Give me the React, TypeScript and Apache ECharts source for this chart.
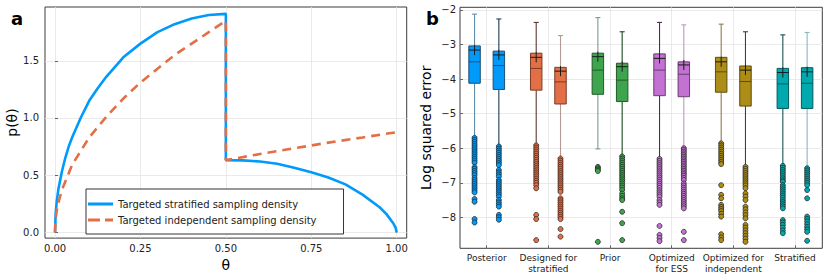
import React, { useEffect, useRef } from 'react';
import * as echarts from 'echarts';

// ---------- Panel a data ----------
const thetaTicks = [0, 0.25, 0.5, 0.75, 1.0];
const densityTicks = [0, 0.5, 1.0, 1.5];

const stratifiedDensity: [number, number][] = [
  [0, 0], [0.002, 0.17], [0.005, 0.27], [0.01, 0.38], [0.02, 0.53], [0.03, 0.65],
  [0.04, 0.75], [0.05, 0.83], [0.075, 1.0], [0.1, 1.15], [0.125, 1.26], [0.15, 1.36],
  [0.2, 1.53], [0.25, 1.65], [0.3, 1.75], [0.35, 1.82], [0.4, 1.87], [0.45, 1.9],
  [0.5, 1.91], [0.5, 0.632], [0.55, 0.63], [0.6, 0.62], [0.65, 0.6], [0.7, 0.565],
  [0.75, 0.525], [0.8, 0.48], [0.85, 0.42], [0.9, 0.33], [0.95, 0.22], [0.97, 0.16],
  [0.99, 0.08], [0.997, 0.04], [1.0, 0.0],
];

const independentDensity: [number, number][] = [
  [0, 0], [0.002, 0.12], [0.005, 0.19], [0.01, 0.26], [0.02, 0.37], [0.05, 0.59],
  [0.1, 0.83], [0.15, 1.01], [0.2, 1.17], [0.25, 1.31], [0.3, 1.43], [0.35, 1.55],
  [0.4, 1.65], [0.45, 1.75], [0.5, 1.85], [0.5, 0.632], [0.6, 0.685], [0.7, 0.735],
  [0.8, 0.785], [0.9, 0.83], [1.0, 0.876],
];

// ---------- Panel b data ----------
const categories = [
  'Posterior', 'Designed for\nstratified', 'Prior', 'Optimized\nfor ESS',
  'Optimized for\nindependent', 'Stratified',
];
const categoryTicks = [1, 2, 3, 4, 5, 6];
const errorTicks = [-8, -7, -6, -5, -4, -3, -2];

// per box: [whisker high, Q3, mean, median, Q1, whisker low]
const boxStats: number[][] = [
  [-2.12, -3.04, -3.16, -3.5, -4.12, -5.67],
  [-2.26, -3.19, -3.3, -3.61, -4.3, -5.94],
  [-2.36, -3.25, -3.37, -3.69, -4.32, -5.9],
  [-2.74, -3.66, -3.77, -4.08, -4.72, -6.28],
  [-2.22, -3.25, -3.35, -3.74, -4.44, -6.02],
  [-2.63, -3.54, -3.64, -4.03, -4.65, -6.22],
  [-2.36, -3.27, -3.4, -3.74, -4.48, -6.29],
  [-2.43, -3.5, -3.59, -3.86, -4.51, -5.99],
  [-2.41, -3.37, -3.5, -3.79, -4.38, -5.85],
  [-2.63, -3.62, -3.74, -4.07, -4.78, -6.52],
  [-2.72, -3.69, -3.81, -4.14, -4.85, -6.5],
  [-2.65, -3.67, -3.79, -4.12, -4.85, -6.57],
];

const outliers: number[][] = [
  [-5.7, -5.76, -5.82, -5.88, -5.94, -6.0, -6.06, -6.12, -6.18, -6.24, -6.3, -6.36, -6.42,
    -6.55, -6.6, -6.66, -6.72, -6.78, -6.86, -6.92, -6.98, -7.04, -7.1, -7.16, -7.22, -7.28,
    -7.47, -7.55, -8.05, -8.15],
  [-5.95, -6.01, -6.07, -6.13, -6.19, -6.25, -6.31, -6.37, -6.43, -6.49, -6.63, -6.7, -6.76,
    -6.82, -6.92, -6.98, -7.04, -7.1, -7.16, -7.22, -7.28, -7.34, -7.4, -7.5, -7.57, -7.63,
    -7.69, -7.93, -8.0, -8.07],
  [-5.92, -5.98, -6.04, -6.1, -6.16, -6.22, -6.28, -6.34, -6.4, -6.46, -6.52, -6.58, -6.64,
    -6.7, -6.76, -6.82, -6.88, -6.94, -7.0, -7.07, -7.16, -7.93, -8.05, -8.66],
  [-6.3, -6.36, -6.42, -6.48, -6.54, -6.6, -6.66, -6.72, -6.78, -6.84, -6.9, -6.96, -7.02,
    -7.08, -7.14, -7.2, -7.26, -7.45, -7.51, -7.57, -7.63, -7.69, -7.75, -7.81, -7.87, -7.93,
    -7.99, -8.05, -8.34, -8.56],
  [-6.54, -6.58, -6.62, -6.66, -8.71],
  [-6.24, -6.3, -6.36, -6.42, -6.48, -6.54, -6.6, -6.66, -6.72, -6.78, -6.84, -6.9, -6.96,
    -7.02, -7.08, -7.14, -7.21, -7.31, -7.38, -7.45, -7.5, -7.84, -8.17, -8.66],
  [-6.31, -6.37, -6.43, -6.49, -6.55, -6.61, -6.67, -6.73, -6.79, -6.85, -6.91, -6.97, -7.03,
    -7.09, -7.15, -7.22, -7.28, -7.34, -7.4, -7.5, -7.57, -7.64, -8.25, -8.51, -8.6, -8.69],
  [-6.0, -6.05, -6.1, -6.15, -6.2, -6.25, -6.3, -6.35, -6.4, -6.45, -6.5, -6.55, -6.6, -6.65,
    -6.7, -6.75, -6.8, -6.86, -6.92, -7.02, -7.08, -7.14, -7.2, -7.26, -7.32, -7.38, -7.44,
    -7.5, -7.56, -7.62, -7.68, -7.74, -8.42, -8.66],
  [-5.86, -5.92, -5.98, -6.04, -6.1, -6.16, -6.22, -6.28, -6.34, -6.4, -6.46, -7.07, -7.35,
    -7.45, -7.64, -7.7, -7.76, -7.82, -7.9, -7.98, -8.49, -8.58, -8.66],
  [-6.54, -6.6, -6.66, -6.72, -6.78, -6.84, -6.9, -6.96, -7.02, -7.08, -7.16, -7.31, -7.4,
    -7.5, -7.69, -7.77, -7.86, -7.94, -8.03, -8.22, -8.3, -8.38, -8.46, -8.54, -8.62, -8.71],
  [-6.51, -6.57, -6.63, -6.69, -6.75, -6.81, -6.87, -6.93, -6.97, -7.07, -7.13, -7.19, -7.25,
    -7.31, -7.37, -7.43, -7.5, -7.56, -7.62, -7.68, -7.74, -8.08, -8.15, -8.22, -8.3, -8.38,
    -8.46],
  [-6.58, -6.64, -6.7, -6.76, -6.82, -6.88, -6.94, -7.0, -7.07, -7.21, -7.45, -7.98, -8.05,
    -8.12, -8.2, -8.28, -8.35, -8.42, -8.68],
];

const groupColors = ['#009AFA', '#E36F47', '#3EA44E', '#C371D2', '#AC8D18', '#00A9AD'];
const groupStrokes = ['#1f4f74', '#7a3b26', '#235a2b', '#6a3d72', '#5e4d0d', '#005b5e'];
const whiskerColors = [
  '#5f8cab', '#173a55', '#5c3a30', '#b49a95', '#7f9a84', '#1d4723',
  '#4d2c54', '#b99cbc', '#8c7c52', '#4a4020', '#1b5253', '#85baba',
];

const FONT = 'DejaVu Sans';
const PAIR_OFFSET = 0.197;
const BOX_WIDTH = 0.186;

function boxX(i: number) {
  return Math.floor(i / 2) + 1 + (i % 2 === 0 ? -PAIR_OFFSET : PAIR_OFFSET);
}

const minus = (v: number) => (v < 0 ? '\u2212' + Math.abs(v) : String(v));

export default function App() {
  const ref = useRef<HTMLDivElement>(null);

  useEffect(() => {
    if (!ref.current) return;
    const chart = echarts.init(ref.current, undefined, { renderer: 'svg' });

    const boxData = boxStats.map((s, i) => [boxX(i), ...s, i]);

    const gridLine = { show: true, lineStyle: { color: '#e5e5e5', width: 0.8 } };
    const tickStyle = { show: true, inside: true, length: 3, lineStyle: { color: '#444', width: 0.8 } };
    const labelStyle = { color: '#222', fontSize: 10, fontFamily: FONT };

    const scatterSeries = outliers.map((vals, i) => ({
      type: 'scatter',
      xAxisIndex: 1,
      yAxisIndex: 1,
      symbol: 'circle',
      symbolSize: 5,
      itemStyle: {
        color: groupColors[Math.floor(i / 2)],
        borderColor: '#1a1a1a',
        borderWidth: 0.7,
        opacity: 1,
      },
      data: vals.map((v) => [boxX(i), v]),
      z: 5,
    }));

    const option: any = {
      animation: false,
      backgroundColor: '#fff',
      textStyle: { fontFamily: FONT },
      title: [
        { text: 'a', left: 6, top: 4, textStyle: { fontSize: 18, fontWeight: 'bold', color: '#000', fontFamily: FONT } },
        { text: 'b', left: 421, top: 4, textStyle: { fontSize: 18, fontWeight: 'bold', color: '#000', fontFamily: FONT } },
      ],
      grid: [
        { left: 45, top: 7, width: 361.7, height: 232, show: true, borderColor: '#3c3c3c', borderWidth: 1 },
        { left: 460, top: 7.3, width: 362.3, height: 241, show: true, borderColor: '#3c3c3c', borderWidth: 1 },
      ],
      legend: {
        orient: 'vertical',
        left: 86,
        top: 189,
        padding: [9, 27, 8, 2],
        itemGap: 4,
        itemWidth: 25,
        itemHeight: 3,
        borderColor: '#333',
        borderWidth: 1,
        borderRadius: 0,
        backgroundColor: '#fff',
        textStyle: { fontSize: 10, color: '#222', fontFamily: FONT, lineHeight: 12 },
        data: [
          { name: 'Targeted stratified sampling density', icon: 'path://M0,0h25v3h-25z' },
          { name: 'Targeted independent sampling density', icon: 'path://M0,0h12v3h-12z M17,0h8v3h-8z' },
        ],
      },
      xAxis: [
        {
          type: 'value',
          gridIndex: 0,
          min: -0.0293,
          max: 1.0293,
          name: 'θ',
          nameLocation: 'middle',
          nameGap: 12,
          nameTextStyle: { fontSize: 14, color: '#000', fontFamily: FONT, verticalAlign: 'top' },
          axisLine: { show: false },
          axisTick: { ...tickStyle, customValues: thetaTicks },
          axisLabel: { ...labelStyle, margin: 5, customValues: thetaTicks, formatter: (v: number) => v.toFixed(2) },
          splitLine: { ...gridLine, customValues: thetaTicks },
        },
        {
          type: 'value',
          gridIndex: 1,
          min: 0.567,
          max: 6.443,
          axisLine: { show: false },
          axisTick: { ...tickStyle, customValues: categoryTicks },
          axisLabel: {
            color: '#222', fontSize: 9, fontFamily: FONT, margin: 4, lineHeight: 11,
            customValues: categoryTicks,
            formatter: (v: number) => categories[Math.round(v) - 1] ?? '',
          },
          splitLine: { ...gridLine, customValues: categoryTicks },
        },
      ],
      yAxis: [
        {
          type: 'value',
          gridIndex: 0,
          min: -0.0496,
          max: 1.97,
          name: 'p(θ)',
          nameLocation: 'middle',
          nameGap: 25,
          nameTextStyle: { fontSize: 14, color: '#000', fontFamily: FONT },
          axisLine: { show: false },
          axisTick: { ...tickStyle, customValues: densityTicks },
          axisLabel: { ...labelStyle, margin: 6, customValues: densityTicks, formatter: (v: number) => v.toFixed(1) },
          splitLine: { ...gridLine, customValues: densityTicks },
        },
        {
          type: 'value',
          gridIndex: 1,
          min: -8.897,
          max: -1.922,
          name: 'Log squared error',
          nameLocation: 'middle',
          nameGap: 27,
          nameTextStyle: { fontSize: 14, color: '#000', fontFamily: FONT },
          axisLine: { show: false },
          axisTick: { ...tickStyle, customValues: errorTicks },
          axisLabel: { ...labelStyle, margin: 4, customValues: errorTicks, formatter: (v: number) => minus(v) },
          splitLine: { ...gridLine, customValues: errorTicks },
        },
      ],
      series: [
        {
          name: 'Targeted stratified sampling density',
          type: 'line',
          xAxisIndex: 0,
          yAxisIndex: 0,
          data: stratifiedDensity,
          symbol: 'none',
          showSymbol: false,
          color: '#009AFA',
          itemStyle: { color: '#009AFA' },
          lineStyle: { color: '#009AFA', width: 2.6 },
          z: 3,
        },
        {
          name: 'Targeted independent sampling density',
          type: 'line',
          xAxisIndex: 0,
          yAxisIndex: 0,
          data: independentDensity,
          symbol: 'none',
          showSymbol: false,
          color: '#E26F46',
          itemStyle: { color: '#E26F46' },
          lineStyle: { color: '#E26F46', width: 2.6, type: [9, 6] },
          z: 4,
        },
        {
          type: 'custom',
          xAxisIndex: 1,
          yAxisIndex: 1,
          data: boxData,
          encode: { x: 0, y: [1, 2, 3, 4, 5, 6] },
          z: 3,
          renderItem: (params: any, api: any) => {
            const x = api.value(0);
            const idx = api.value(7);
            const g = Math.floor(idx / 2);
            const py = (v: number) => api.coord([x, v])[1];
            const px = api.coord([x, api.value(1)])[0];
            const bw = api.size([BOX_WIDTH, 0])[0];
            const yWh = py(api.value(1));
            const yQ3 = py(api.value(2));
            const mean = api.value(3);
            const yMean = py(mean);
            const yMed = py(api.value(4));
            const yQ1 = py(api.value(5));
            const yWl = py(api.value(6));
            const wc = whiskerColors[idx];
            const sc = groupStrokes[g];
            const cap = 2.5;
            return {
              type: 'group',
              children: [
                { type: 'line', shape: { x1: px, y1: yWh, x2: px, y2: yQ3 }, style: { stroke: wc, lineWidth: 1.1 } },
                { type: 'line', shape: { x1: px - cap, y1: yWh, x2: px + cap, y2: yWh }, style: { stroke: wc, lineWidth: 1.1 } },
                { type: 'line', shape: { x1: px, y1: yQ1, x2: px, y2: yWl }, style: { stroke: wc, lineWidth: 1.1 } },
                { type: 'line', shape: { x1: px - cap, y1: yWl, x2: px + cap, y2: yWl }, style: { stroke: wc, lineWidth: 1.1 } },
                {
                  type: 'rect',
                  shape: { x: px - bw / 2, y: yQ3, width: bw, height: yQ1 - yQ3 },
                  style: { fill: groupColors[g], stroke: sc, lineWidth: 1 },
                },
                { type: 'line', shape: { x1: px - bw / 2, y1: yMed, x2: px + bw / 2, y2: yMed }, style: { stroke: sc, lineWidth: 1 } },
                { type: 'line', shape: { x1: px - bw / 2, y1: yMean, x2: px + bw / 2, y2: yMean }, style: { stroke: '#1a1a1a', lineWidth: 1 } },
                {
                  type: 'line',
                  shape: { x1: px, y1: py(mean + 0.145), x2: px, y2: py(mean - 0.145) },
                  style: { stroke: '#1a1a1a', lineWidth: 1 },
                },
              ],
            };
          },
        },
        ...scatterSeries,
      ],
    };

    chart.setOption(option);
    return () => chart.dispose();
  }, []);

  return (
    <div
      ref={ref}
      style={{ position: 'fixed', left: 0, top: 0, width: 830, height: 277, background: '#fff' }}
    />
  );
}
